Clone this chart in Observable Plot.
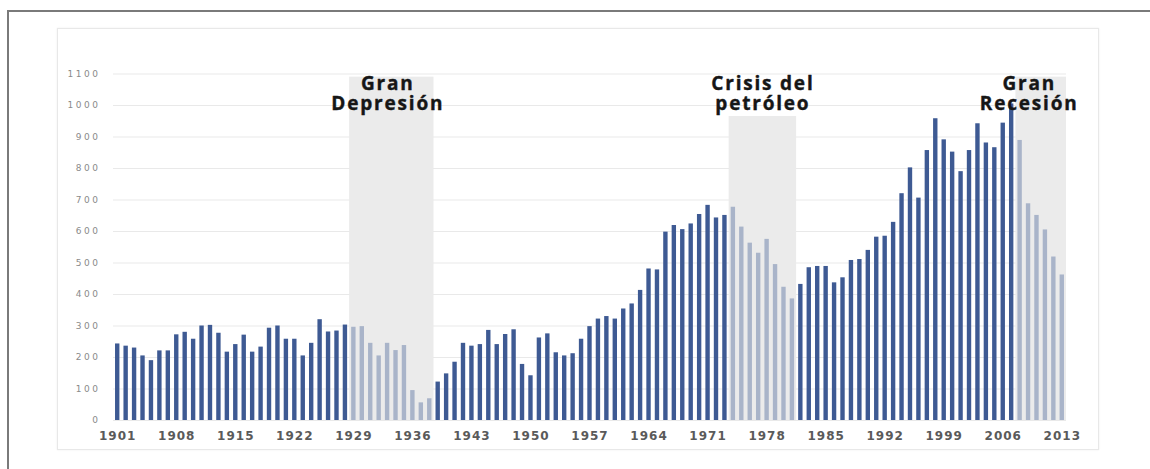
<!DOCTYPE html>
<html><head><meta charset="utf-8">
<script src="https://cdn.jsdelivr.net/npm/d3@7"></script>
<script src="https://cdn.jsdelivr.net/npm/@observablehq/plot@0.6"></script>
<style>
body{margin:0;background:#fff;}
#wrap{position:relative;width:1150px;height:469px;overflow:hidden;background:#fff;}
#frame{position:absolute;left:7px;top:10px;width:1160px;height:480px;border-top:2px solid #7a7a7a;border-left:2px solid #7a7a7a;pointer-events:none;z-index:2;}
#panel{position:absolute;left:57px;top:28px;width:1040px;height:420px;border:1px solid #e8e8e8;box-shadow:0 0 2px rgba(0,0,0,0.07);pointer-events:none;z-index:0;}
#chart{position:absolute;left:0;top:0;z-index:1;}
</style>
</head><body>
<div id="wrap"><div id="panel"></div><div id="chart"></div><div id="frame"></div></div>
<script>
const startYear = 1901;
const endYear = 2013;
const values = [
  243,236,230,205,190,221,221,272,280,258,
  300,302,277,217,241,271,217,233,293,300,
  258,258,205,245,320,281,284,303,296,298,
  245,205,245,222,238,95,56,69,122,148,
  185,245,236,241,286,241,273,288,178,142,
  262,275,215,205,212,258,298,322,330,322,
  354,370,413,481,478,598,619,606,624,654,
  683,643,651,677,614,563,531,575,495,423,
  386,432,485,489,489,437,453,508,511,540,
  582,585,629,720,802,706,857,958,891,852,
  790,857,942,881,866,944,1005,889,688,651,
  605,519,462
];
const periodLabels = ["Gran\nDepresión", "Crisis del\npetróleo", "Gran\nRecesión"];
const periodStart = [1929, 1974, 2008];
const periodEnd = [1938, 1981, 2013];
const periodTop = [1090, 965, 1090];
const xTicks = d3.range(1901, 2014, 7);
const yTicks = d3.range(0, 1101, 100);

const years = d3.range(startYear, endYear + 1);
const periods = periodLabels.map((label, i) => ({label, start: periodStart[i], end: periodEnd[i], top: periodTop[i]}));
const bars = years.map((year, i) => ({
  year, value: values[i],
  crisis: periods.some(p => year >= p.start && year <= p.end)
}));
const labelDx = [-4, 0, -12];

const svg = Plot.plot({
  width: 1150, height: 469,
  marginLeft: 113, marginRight: 84, marginTop: 73.5, marginBottom: 49,
  style: {background: "transparent", overflow: "visible"},
  x: {type: "linear", domain: [startYear - 0.5, endYear + 0.5]},
  y: {domain: [0, 1100]},
  marks: [
    Plot.gridY(yTicks, {stroke: "#e9e9e9", strokeOpacity: 1}),
    Plot.rectY(periods, {x1: d => d.start - 0.5, x2: d => d.end + 0.5, y1: () => 0, y2: "top", fill: "#ebebeb"}),
    Plot.rectY(bars.filter(d => !d.crisis), {x1: d => d.year - 0.26, x2: d => d.year + 0.26, y1: () => 0, y2: "value", fill: "#3e5a93"}),
    Plot.rectY(bars.filter(d => d.crisis), {x1: d => d.year - 0.26, x2: d => d.year + 0.26, y1: () => 0, y2: "value", fill: "#a9b4c9"}),
    Plot.axisY(yTicks, {tickSize: 0, tickPadding: 13, tickFormat: d => String(d), fontSize: 9, fill: "#8a8a8a", fontFamily: "DejaVu Sans", label: null}),
    Plot.axisX(xTicks, {tickSize: 0, tickPadding: 11, tickFormat: d => String(d), fontSize: 12, fontWeight: "bold", fill: "#5a5a5a", fontFamily: "DejaVu Sans", label: null}),
    ...periods.map((p, i) => Plot.text([p], {
      x: d => (d.start + d.end) / 2, y: () => 1100, text: "label",
      lineAnchor: "top", lineHeight: 1.05, dy: 2, dx: labelDx[i],
      fontSize: 19, fontWeight: "bold", fontFamily: "Open Sans", fill: "#161616",
      stroke: "#161616", strokeWidth: 0.4
    }))
  ]
});
document.getElementById("chart").appendChild(svg);
const s = d3.select(svg);
s.selectAll('g[aria-label="y-axis tick label"] text').style("letter-spacing", "2.5px");
s.selectAll('g[aria-label="x-axis tick label"] text').style("letter-spacing", "1px");
s.selectAll('g[aria-label="text"] text').style("letter-spacing", "1.8px");
</script>
</body></html>
